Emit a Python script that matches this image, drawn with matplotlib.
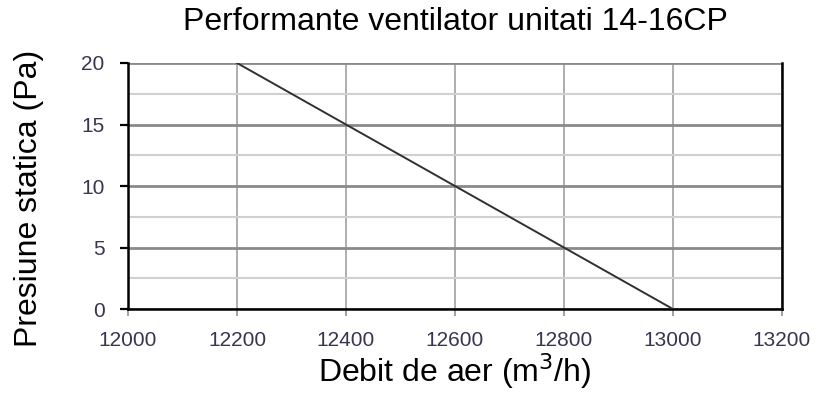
import matplotlib
matplotlib.use("Agg")
import matplotlib.pyplot as plt
from matplotlib.ticker import MultipleLocator

# Fan curve points: airflow (m3/h) vs static pressure (Pa)
debit = [12200, 12400, 12600, 12800, 13000]
presiune = [20, 15, 10, 5, 0]

x_ticks = [12000, 12200, 12400, 12600, 12800, 13000, 13200]
y_ticks = [0, 5, 10, 15, 20]

plt.rcParams["font.family"] = ["Liberation Sans", "DejaVu Sans"]

fig = plt.figure(figsize=(8.17, 3.93), dpi=100)
ax = fig.add_axes([0.1567, 0.2137, 0.8003, 0.626])

ax.set_xlim(12000, 13200)
ax.set_ylim(0, 20)
ax.set_xticks(x_ticks)
ax.set_yticks(y_ticks)
ax.yaxis.set_minor_locator(MultipleLocator(2.5))

ax.grid(True, which="major", axis="y", color="#8a8a8a", linewidth=2.0)
ax.grid(True, which="minor", axis="y", color="#d0d0d0", linewidth=1.5)
ax.grid(True, which="major", axis="x", color="#a8a8a8", linewidth=1.3)
ax.tick_params(which="minor", length=0)

ax.plot(debit, presiune, color="#303030", linewidth=1.4, zorder=3)

for side in ("left", "bottom", "right"):
    ax.spines[side].set_linewidth(1.8)
    ax.spines[side].set_color("black")
ax.spines["top"].set_visible(False)

ax.tick_params(axis="y", which="major", direction="out", length=6, width=1.6,
               color="black", labelsize=15, labelcolor="#3a3450", pad=11)
ax.tick_params(axis="x", which="major", direction="out", length=5, width=1.2,
               color="#909090", labelsize=15, labelcolor="#3a3450", pad=11)

ax.set_title("Performante ventilator unitati 14-16CP", fontsize=23,
             y=1.102, va="baseline")

ax.set_xlabel("Debit de aer (m$^3$/h)", fontsize=23)
ax.xaxis.set_label_coords(0.5, -0.297)
ax.xaxis.label.set_va("baseline")

ax.set_ylabel("Presiune statica (Pa)", fontsize=23)
ax.yaxis.set_label_coords(-0.139, 0.451)
ax.yaxis.label.set_rotation_mode("anchor")
ax.yaxis.label.set_ha("center")
ax.yaxis.label.set_va("baseline")

fig.savefig("out.png", dpi=100)
